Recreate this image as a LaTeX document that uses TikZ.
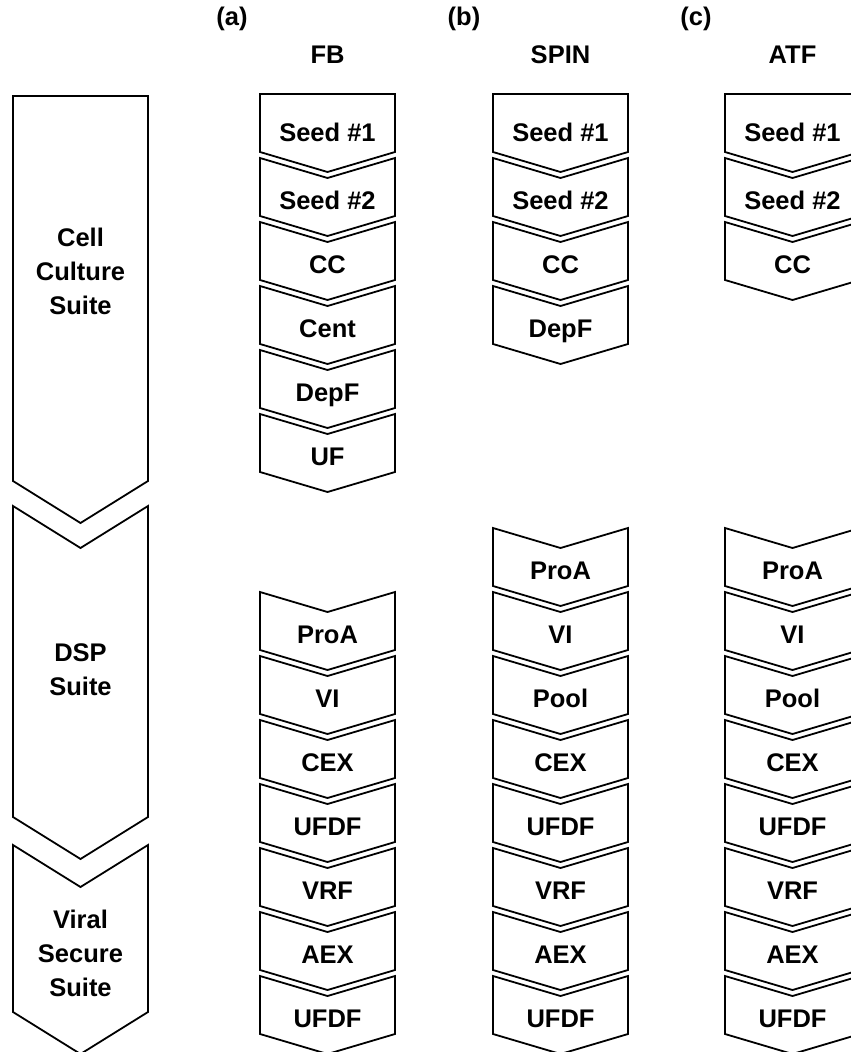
\documentclass[tikz,border=0pt]{standalone}
\usepackage{fontspec}
\setmainfont{Liberation Sans}
\begin{document}
\begin{tikzpicture}[x=1pt,y=-1pt]
\tikzset{
  outline/.style={draw=black, line width=1.8pt, line join=miter, fill=white},
  lbl/.style={font=\bfseries\fontsize{25.5}{34}\selectfont, align=center, inner sep=0pt},
}
% one process step: name, left x, top y, text, depth of the top notch
\newcommand\stagebox[5]{%
  \draw[outline] (#2,#3) -- (#2+67.5,#3+#5) -- (#2+135,#3) -- (#2+135,#3+58)
    -- (#2+67.5,#3+78) -- (#2,#3+58) -- cycle;
  \node[lbl, anchor=base] (#1) at (#2+67.5,#3+47+#5/5) {#4};
}
% one suite arrow: left x, top y, bottom y of the sides, notch depth
\newcommand\suitearrow[4]{%
  \draw[outline] (#1,#2) -- (#1+67.5,#2+#4) -- (#1+135,#2) -- (#1+135,#3)
    -- (#1+67.5,#3+42) -- (#1,#3) -- cycle;
}
\useasboundingbox (0,0) rectangle (851,1052);

% suites
\suitearrow{13}{96}{481}{0}
\suitearrow{13}{506}{817}{42}
\suitearrow{13}{845}{1012}{42}
\node[lbl] (cell) at (80.5,271) {Cell\\Culture\\Suite};
\node[lbl] (dsp) at (80.5,670) {DSP\\Suite};
\node[lbl] (viral) at (80.5,953) {Viral\\Secure\\Suite};

% column headings
\node[lbl] (ta) at (232,19) {(a)};
\node[lbl] (tb) at (464,19) {(b)};
\node[lbl] (tc) at (696,19) {(c)};
\node[lbl] (fb) at (327.5,55) {FB};
\node[lbl] (spin) at (560.5,55) {SPIN};
\node[lbl] (atf) at (792.5,55) {ATF};

% (a) FB
\stagebox{a1}{260}{94}{Seed \#1}{0}
\stagebox{a2}{260}{158}{Seed \#2}{20}
\stagebox{a3}{260}{222}{CC}{20}
\stagebox{a4}{260}{286}{Cent}{20}
\stagebox{a5}{260}{350}{DepF}{20}
\stagebox{a6}{260}{414}{UF}{20}
\stagebox{a7}{260}{592}{ProA}{20}
\stagebox{a8}{260}{656}{VI}{20}
\stagebox{a9}{260}{720}{CEX}{20}
\stagebox{a10}{260}{784}{UFDF}{20}
\stagebox{a11}{260}{848}{VRF}{20}
\stagebox{a12}{260}{912}{AEX}{20}
\stagebox{a13}{260}{976}{UFDF}{20}

% (b) SPIN
\stagebox{b1}{493}{94}{Seed \#1}{0}
\stagebox{b2}{493}{158}{Seed \#2}{20}
\stagebox{b3}{493}{222}{CC}{20}
\stagebox{b4}{493}{286}{DepF}{20}
\stagebox{b5}{493}{528}{ProA}{20}
\stagebox{b6}{493}{592}{VI}{20}
\stagebox{b7}{493}{656}{Pool}{20}
\stagebox{b8}{493}{720}{CEX}{20}
\stagebox{b9}{493}{784}{UFDF}{20}
\stagebox{b10}{493}{848}{VRF}{20}
\stagebox{b11}{493}{912}{AEX}{20}
\stagebox{b12}{493}{976}{UFDF}{20}

% (c) ATF
\stagebox{c1}{725}{94}{Seed \#1}{0}
\stagebox{c2}{725}{158}{Seed \#2}{20}
\stagebox{c3}{725}{222}{CC}{20}
\stagebox{c5}{725}{528}{ProA}{20}
\stagebox{c6}{725}{592}{VI}{20}
\stagebox{c7}{725}{656}{Pool}{20}
\stagebox{c8}{725}{720}{CEX}{20}
\stagebox{c9}{725}{784}{UFDF}{20}
\stagebox{c10}{725}{848}{VRF}{20}
\stagebox{c11}{725}{912}{AEX}{20}
\stagebox{c12}{725}{976}{UFDF}{20}
\end{tikzpicture}
\end{document}
